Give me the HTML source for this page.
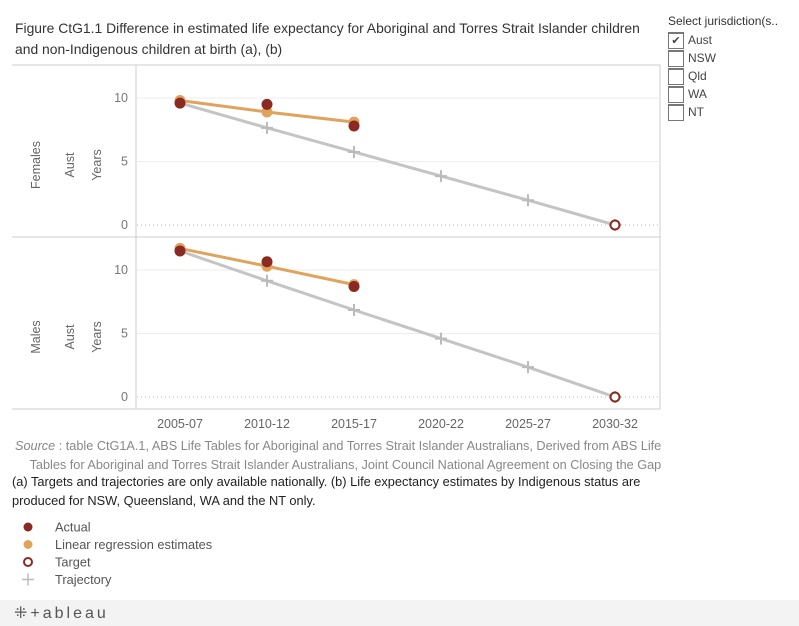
<!DOCTYPE html>
<html><head><meta charset="utf-8"><style>
body{margin:0;width:799px;height:626px;background:#fff;font-family:"Liberation Sans",sans-serif;position:relative;overflow:hidden}
.t{position:absolute;white-space:nowrap}
</style></head><body>
<div class="t" style="left:15px;top:18px;font-size:13.9px;color:#333;line-height:21px">Figure CtG1.1 Difference in estimated life expectancy for Aboriginal and Torres Strait Islander children<br>and non-Indigenous children at birth (a), (b)</div>
<div class="t" style="left:668px;top:14px;font-size:12px;color:#333">Select jurisdiction(s..</div>
<div style="position:absolute;left:668px;top:32px" id="flt"></div>
<svg id="ch" width="799" height="626" style="position:absolute;left:0;top:0"></svg>
<div class="t" style="left:15px;top:437px;font-size:12.7px;color:#888;line-height:19px;text-align:right"><i>Source</i> : table CtG1A.1, ABS Life Tables for Aboriginal and Torres Strait Islander Australians, Derived from ABS Life<br>Tables for Aboriginal and Torres Strait Islander Australians, Joint Council National Agreement on Closing the Gap</div>
<div class="t" style="left:12px;top:473px;font-size:12.8px;color:#222;line-height:18.5px">(a) Targets and trajectories are only available nationally. (b) Life expectancy estimates by Indigenous status are<br>produced for NSW, Queensland, WA and the NT only.</div>
<div style="position:absolute;left:0;top:600px;width:799px;height:26px;background:#f3f3f3"><span class="t" style="left:14px;top:3px;font-size:16px;color:#555;letter-spacing:3px">⁜+ableau</span></div>
<script>
const categories=["2005-07","2010-12","2015-17","2020-22","2025-27","2030-32"];
const femActual=[9.6,9.5,7.8];
const femRegression=[9.8,8.9,8.1];
const femTrajectory=[9.6,7.65,5.75,3.85,1.95,0];
const maleActual=[11.5,10.65,8.7];
const maleRegression=[11.7,10.3,8.85];
const maleTrajectory=[11.5,9.15,6.85,4.6,2.35,0];
const targetValue=[0];
const yTicks=[0,5,10];
const NS="http://www.w3.org/2000/svg",svg=document.getElementById('ch');
function mk(t,a,p){const e=document.createElementNS(NS,t);for(const k in a)e.setAttribute(k,a[k]);(p||svg).appendChild(e);return e}
const xs=i=>180+i*87;
let l;
l=mk('line',{x1:12,y1:65,x2:660,y2:65,stroke:'#ccc'});
l=mk('line',{x1:12,y1:237,x2:660,y2:237,stroke:'#ccc'});
l=mk('line',{x1:12,y1:409,x2:660,y2:409,stroke:'#ccc'});
l=mk('line',{x1:136,y1:65,x2:136,y2:409,stroke:'#ccc'});
l=mk('line',{x1:660,y1:65,x2:660,y2:409,stroke:'#ccc'});
function panel(name,y0,act,reg,traj,label){
 const ys=v=>y0-v*12.7;
 yTicks.forEach(v=>{
  const g=mk('line',{x1:137,x2:659,y1:ys(v),y2:ys(v),stroke:v===0?'#bbb':'#eee','stroke-dasharray':v===0?'1,3':''});
  
  const t=mk('text',{x:128,y:ys(v)+4,'text-anchor':'end','font-size':12.5,fill:'#777'});t.textContent=v;
  
 });
 const cy=y0-60;
 [[40,label],[74,'Aust'],[101,'Years']].forEach(([x,s])=>{const t=mk('text',{x:x,y:cy,'text-anchor':'middle','font-size':12.5,fill:'#666',transform:`rotate(-90 ${x} ${cy})`});t.textContent=s;
 });
 let p=mk('polyline',{points:traj.map((v,i)=>xs(i)+','+ys(v)).join(' '),fill:'none',stroke:'#c4c4c4','stroke-width':3});
 
 traj.forEach((v,i)=>{if(i===0)return;const g=mk('path',{d:`M${xs(i)-6},${ys(v)}h12M${xs(i)},${ys(v)-6}v12`,stroke:'#bbb','stroke-width':2});
 });
 p=mk('polyline',{points:reg.map((v,i)=>xs(i)+','+ys(v)).join(' '),fill:'none',stroke:'#e0a35c','stroke-width':3});
 
 reg.forEach((v,i)=>{const c=mk('circle',{cx:xs(i),cy:ys(v),r:5.5,fill:'#e0a35c'});});
 act.forEach((v,i)=>{const c=mk('circle',{cx:xs(i),cy:ys(v),r:5.5,fill:'#8b2a22'});});
 targetValue.forEach(v=>{const c=mk('circle',{cx:xs(5),cy:ys(v),r:4.5,fill:'#fff',stroke:'#8b2a22','stroke-width':2});});
}
panel('females',225,femActual,femRegression,femTrajectory,'Females');
panel('males',397,maleActual,maleRegression,maleTrajectory,'Males');
categories.forEach((c,i)=>{const t=mk('text',{x:xs(i),y:428,'text-anchor':'middle','font-size':12.5,fill:'#666'});t.textContent=c;
});
const leg=[['Actual','a'],['Linear regression estimates','r'],['Target','t'],['Trajectory','j']];
leg.forEach((e,i)=>{const y=527+i*17.5;let m;
 if(e[1]==='a')m=mk('circle',{cx:28,cy:y,r:4.5,fill:'#8b2a22'});
 else if(e[1]==='r')m=mk('circle',{cx:28,cy:y,r:4.5,fill:'#e0a35c'});
 else if(e[1]==='t')m=mk('circle',{cx:28,cy:y,r:4,fill:'none',stroke:'#8b2a22','stroke-width':2});
 else m=mk('path',{d:`M22,${y}h12M28,${y-6}v12`,stroke:'#bbb','stroke-width':1.5});
 
 const t=mk('text',{x:55,y:y+4.5,'font-size':12.8,fill:'#555'});t.textContent=e[0];
 });
const flt=document.getElementById('flt');
["Aust","NSW","QId","WA","NT"].forEach((s,i)=>{const d=document.createElement('div');
 
 d.style.cssText='position:absolute;left:0;top:'+(i*18)+'px;width:120px;height:18px;font-size:12px;color:#444';
 d.innerHTML='<span style="position:absolute;left:0;top:0;width:16px;height:17px;border:1px solid #777;border-top-width:2px;box-sizing:border-box;font-size:11px;text-align:center;line-height:14px">'+(i===0?'✔':'')+'</span><span style="position:absolute;left:20px;top:1px">'+(s==='QId'?'Qld':s)+'</span>';
 flt.appendChild(d);});
</script>
</body></html>
